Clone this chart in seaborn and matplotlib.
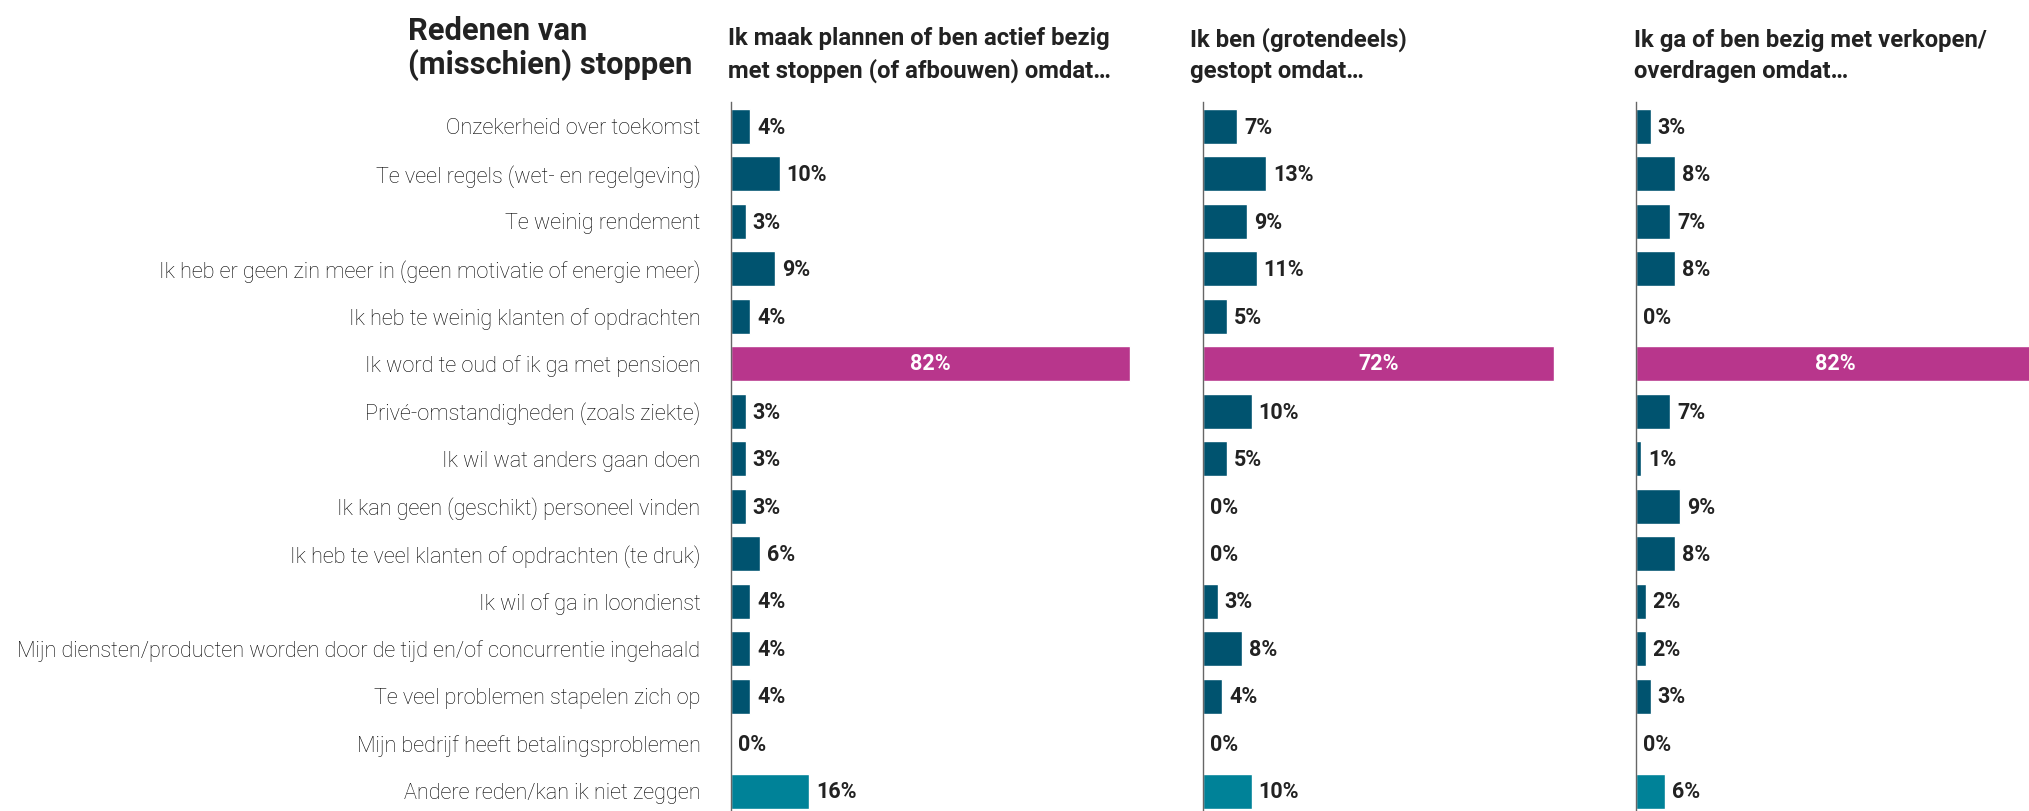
import matplotlib
matplotlib.use("Agg")
import matplotlib.pyplot as plt
import seaborn as sns
import pandas as pd

# --- data -------------------------------------------------------------
redenen = [
    "Onzekerheid over toekomst",
    "Te veel regels (wet- en regelgeving)",
    "Te weinig rendement",
    "Ik heb er geen zin meer in (geen motivatie of energie meer)",
    "Ik heb te weinig klanten of opdrachten",
    "Ik word te oud of ik ga met pensioen",
    "Privé-omstandigheden (zoals ziekte)",
    "Ik wil wat anders gaan doen",
    "Ik kan geen (geschikt) personeel vinden",
    "Ik heb te veel klanten of opdrachten (te druk)",
    "Ik wil of ga in loondienst",
    "Mijn diensten/producten worden door de tijd en/of concurrentie ingehaald",
    "Te veel problemen stapelen zich op",
    "Mijn bedrijf heeft betalingsproblemen",
    "Andere reden/kan ik niet zeggen",
]
stoppen_pct = [4, 10, 3, 9, 4, 82, 3, 3, 3, 6, 4, 4, 4, 0, 16]
gestopt_pct = [7, 13, 9, 11, 5, 72, 10, 5, 0, 0, 3, 8, 4, 0, 10]
verkopen_pct = [3, 8, 7, 8, 0, 82, 7, 1, 9, 8, 2, 2, 3, 0, 6]

kolomtitels = [
    "Ik maak plannen of ben actief bezig\nmet stoppen (of afbouwen) omdat…",
    "Ik ben (grotendeels)\ngestopt omdat…",
    "Ik ga of ben bezig met verkopen/\noverdragen omdat…",
]
titel = "Redenen van\n(misschien) stoppen"

# --- style ------------------------------------------------------------
sns.set_theme(style="white")
plt.rcParams["font.family"] = ["Roboto", "DejaVu Sans"]

DONKER = "#00536F"
ACCENT = "#B8368C"
OVERIG = "#008298"
TEKST = "#222222"

kleuren = {r: DONKER for r in redenen}
kleuren["Ik word te oud of ik ga met pensioen"] = ACCENT
kleuren["Andere reden/kan ik niet zeggen"] = OVERIG

df = pd.DataFrame({
    "reden": redenen,
    "stoppen": stoppen_pct,
    "gestopt": gestopt_pct,
    "verkopen": verkopen_pct,
})

W, H = 2029, 811
fig = plt.figure(figsize=(W / 100, H / 100), dpi=100)

PX_PER_PCT = 4.87
top_px, bottom_px = 102, 811
panels = [("stoppen", 731, 440), ("gestopt", 1203, 420), ("verkopen", 1636, 393)]
kop_x = [728, 1190, 1634]

for idx, ((kolom, left_px, width_px), kop, kx) in enumerate(zip(panels, kolomtitels, kop_x)):
    ax = fig.add_axes([left_px / W, 1 - bottom_px / H, width_px / W, (bottom_px - top_px) / H])
    sns.barplot(data=df, x=kolom, y="reden", hue="reden", palette=kleuren,
                legend=False, width=0.737, saturation=1, orient="h", ax=ax)
    ax.set_xlim(0, width_px / PX_PER_PCT)
    ax.set_ylim(14.42, -0.51)
    ax.set_xlabel("")
    ax.set_ylabel("")
    ax.set_xticks([])
    for s in ["top", "right", "bottom"]:
        ax.spines[s].set_visible(False)
    ax.spines["left"].set_color("#666666")
    ax.spines["left"].set_linewidth(1.0)
    ax.patch.set_alpha(0)

    if idx == 0:
        ax.tick_params(axis="y", length=0, pad=22)
        ax.set_yticks(range(len(redenen)))
        ax.set_yticklabels(redenen, fontsize=15.6, fontweight="light", color="#000000")
    else:
        ax.set_yticks([])

    for i, v in enumerate(df[kolom]):
        if v >= 50:
            ax.text(v / 2, i, f"{v}%", ha="center", va="center", color="white",
                    fontsize=15.5, fontweight="bold", clip_on=False)
        else:
            ax.annotate(f"{v}%", (v, i), xytext=(5, -1), textcoords="offset points",
                        ha="left", va="center", color=TEKST,
                        fontsize=15.5, fontweight="bold")

    fig.text(kx / W, 1 - 78 / H, kop, ha="left", va="baseline", fontsize=17.2,
             fontweight="bold", color=TEKST, linespacing=1.45)

fig.text(408 / W, 1 - 74 / H, titel, ha="left", va="baseline", fontsize=22.2,
         fontweight="bold", color=TEKST, linespacing=1.12)

fig.savefig("out.png", dpi=100)
